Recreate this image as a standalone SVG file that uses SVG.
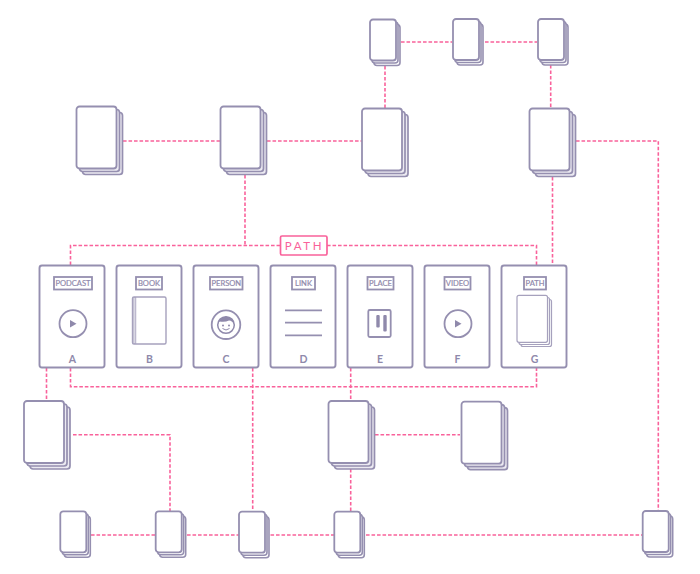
<svg xmlns="http://www.w3.org/2000/svg" xmlns:xlink="http://www.w3.org/1999/xlink" width="700" height="574" viewBox="0 0 700 574">
<style>
.c{fill:none;stroke:#f9629b;stroke-width:1.6;stroke-dasharray:3.6 1.9}
.s{fill:#fff;stroke:#958fb0;stroke-width:1.8}
.g{fill:#eceaf2;stroke:#958fb0;stroke-width:1.7}
.m{fill:#fff;stroke:#958fb0;stroke-width:1.6}
.b{fill:#fff;stroke:#958fb0;stroke-width:1.9}
.t{fill:#fff;stroke:#958fb0;stroke-width:1.8}
.l{font-family:"Lato","Liberation Sans",sans-serif;font-size:7.6px;fill:#8f89ab;stroke:#8f89ab;stroke-width:.2;text-anchor:middle}
.h{font-family:"Lato","Liberation Sans",sans-serif;font-size:10.5px;font-weight:700;fill:#8f89ab;text-anchor:middle}
.d{fill:#8f89ab;stroke:none}
.n{fill:none;stroke:#958fb0;stroke-width:1.8}
</style>
<defs>
<g id="big"><rect class="g" x="6" y="6" width="40" height="62" rx="3"/><rect class="g" x="3" y="3" width="40" height="62" rx="3"/><rect class="s" width="40" height="62" rx="3"/></g>
<g id="small"><rect class="m" x="4" y="5" width="26" height="41" rx="3"/><rect class="m" x="2" y="2.500" width="26" height="41" rx="3"/><rect class="s" width="26" height="41" rx="3"/></g>
<g id="play"><circle class="n" r="13.500"/><path class="d" d="M-3-3.800L3.500 0L-3 3.800Z"/></g>
</defs>
<g id="connectors">
<path class="c" d="M70.500 265V245.500H280M327 245.500H536.500V265"/>
<path class="c" d="M245 175V245.500"/>
<path class="c" d="M552.500 177V265"/>
<path class="c" d="M70.500 368V386.700H536.500V368"/>
<path class="c" d="M46.500 368V401"/>
<path class="c" d="M252.700 368V511"/>
<path class="c" d="M350.700 368V401"/>
<path class="c" d="M350.700 469V511"/>
<path class="c" d="M123 141H220"/>
<path class="c" d="M267 141H362"/>
<path class="c" d="M385 66V108"/>
<path class="c" d="M401 42H452"/>
<path class="c" d="M485 42H537"/>
<path class="c" d="M550.700 65V108"/>
<path class="c" d="M576 141H658.300V511"/>
<path class="c" d="M73 434.700H170V511"/>
<path class="c" d="M375 434.700H460"/>
<path class="c" d="M91 535H155"/>
<path class="c" d="M187 535H239"/>
<path class="c" d="M265 535H334"/>
<path class="c" d="M366 535H642"/>
</g>
<g id="stack-1"><use xlink:href="#big" x="76.500" y="106.500"/></g>
<g id="stack-2"><use xlink:href="#big" x="220.500" y="106.500"/></g>
<g id="stack-3"><use xlink:href="#big" x="362" y="108.500"/></g>
<g id="stack-4"><use xlink:href="#big" x="529.500" y="108.500"/></g>
<g id="stack-5"><use xlink:href="#big" x="24" y="401"/></g>
<g id="stack-6"><use xlink:href="#big" x="328.500" y="401"/></g>
<g id="stack-7"><use xlink:href="#big" x="461.500" y="401.700"/></g>
<g id="small-1"><use xlink:href="#small" x="370" y="19.500"/></g>
<g id="small-2"><use xlink:href="#small" x="453" y="19"/></g>
<g id="small-3"><use xlink:href="#small" x="538" y="19"/></g>
<g id="small-4"><use xlink:href="#small" x="60.300" y="511.300"/></g>
<g id="small-5"><use xlink:href="#small" x="155.700" y="511.300"/></g>
<g id="small-6"><use xlink:href="#small" x="239" y="511.700"/></g>
<g id="small-7"><use xlink:href="#small" x="334.300" y="511.700"/></g>
<g id="small-8"><use xlink:href="#small" x="642.700" y="511"/></g>
<g id="path-label"><rect x="280.500" y="236" width="46.500" height="19" rx="1.500" fill="#fff" stroke="#f9629b" stroke-width="1.700"/><text x="304.500" y="249.500" font-family="Lato,'Liberation Sans',sans-serif" font-size="11.500" letter-spacing="2.600" fill="#f9629b" text-anchor="middle">PATH</text></g>
<g id="card-a"><rect class="b" x="39.500" y="265.500" width="65" height="102" rx="2.500"/><rect class="t" x="54" y="277" width="38" height="12.500"/><text class="l" x="73" y="286">PODCAST</text><use xlink:href="#play" x="73" y="323.700"/><text class="h" x="72.500" y="362.500">A</text></g>
<g id="card-b"><rect class="b" x="116.500" y="265.500" width="65" height="102" rx="2.500"/><rect class="t" x="136" y="277" width="26" height="12.500"/><text class="l" x="149" y="286">BOOK</text><rect x="132.500" y="297" width="33.500" height="47" rx="1.500" fill="#fff" stroke="#a6a1bd" stroke-width="1.400"/><rect x="133" y="297.500" width="2.800" height="46" fill="#d9d7e3" stroke="#a6a1bd" stroke-width="0.800"/><text class="h" x="149.500" y="362.500">B</text></g>
<g id="card-c"><rect class="b" x="193.500" y="265.500" width="65" height="102" rx="2.500"/><rect class="t" x="210" y="277" width="32.500" height="12.500"/><text class="l" x="226.300" y="286">PERSON</text><circle class="n" cx="226" cy="324.700" r="14.300"/><circle cx="226" cy="325" r="8.300" fill="#fff" stroke="#8f89ab" stroke-width="1.500"/><path class="d" d="M217.700 325A8.300 8.300 0 0 1 234.300 325Q232.500 320.500 229 320.500Q225 322.500 219.500 321.500Q218 323 217.700 325Z"/><circle class="d" cx="223" cy="325.500" r="1"/><circle class="d" cx="229" cy="325.500" r="1"/><path d="M222.500 328.500Q226 331.500 229.500 328.500" fill="none" stroke="#8f89ab" stroke-width="1"/><text class="h" x="226" y="362.500">C</text></g>
<g id="card-d"><rect class="b" x="270.500" y="265.500" width="65" height="102" rx="2.500"/><rect class="t" x="292" y="277" width="23" height="12.500"/><text class="l" x="303.500" y="286">LINK</text><path class="n" d="M285 310.300H322M285 322.700H322M285 335.300H322"/><text class="h" x="303.500" y="362.500">D</text></g>
<g id="card-e"><rect class="b" x="347.500" y="265.500" width="65" height="102" rx="2.500"/><rect class="t" x="367.500" y="277" width="26" height="12.500"/><text class="l" x="380.500" y="286">PLACE</text><rect class="n" x="368.300" y="310" width="22.400" height="27" rx="1.500"/><rect class="d" x="376.300" y="315" width="3.400" height="12.500" rx="1"/><rect class="d" x="383.300" y="315" width="3.400" height="16.500" rx="1"/><text class="h" x="380" y="362.500">E</text></g>
<g id="card-f"><rect class="b" x="424.500" y="265.500" width="65" height="102" rx="2.500"/><rect class="t" x="444.500" y="277" width="26" height="12.500"/><text class="l" x="457.500" y="286">VIDEO</text><use xlink:href="#play" x="458" y="323.700"/><text class="h" x="457.500" y="362.500">F</text></g>
<g id="card-g"><rect class="b" x="501.500" y="265.500" width="65" height="102" rx="2.500"/><rect class="t" x="524" y="277" width="22" height="12.500"/><text class="l" x="535" y="286">PATH</text><g stroke-width="1.200"><rect x="521" y="299.500" width="30.500" height="47" rx="2" fill="#fff" stroke="#a6a1bd"/><rect x="519" y="297.500" width="30.500" height="47" rx="2" fill="#fff" stroke="#a6a1bd"/><rect x="517" y="295.300" width="30.500" height="47" rx="2" fill="#fff" stroke="#a6a1bd"/></g><text class="h" x="534.500" y="362.500">G</text></g>
</svg>
